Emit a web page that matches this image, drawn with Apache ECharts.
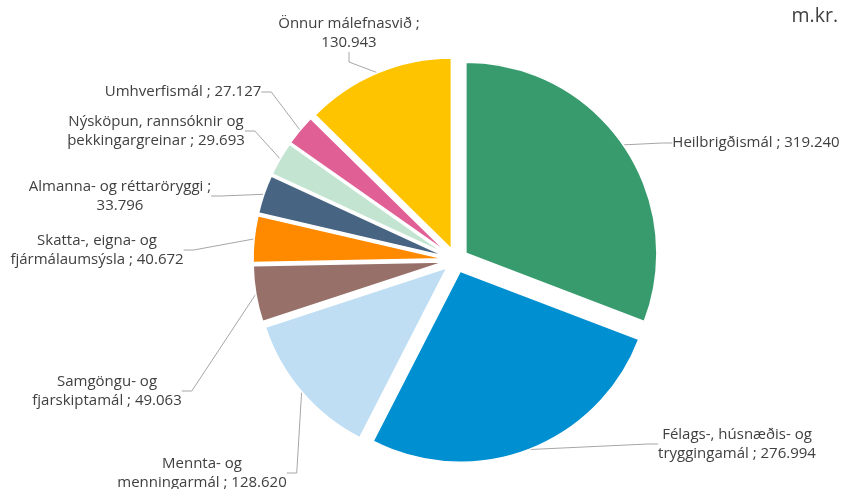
<!DOCTYPE html>
<html><head><meta charset="utf-8">
<script src="https://cdn.jsdelivr.net/npm/echarts@6/dist/echarts.min.js"></script>
<style>html,body{margin:0;padding:0;background:#fff}#c{width:841px;height:489px}</style>
</head><body><div id="c"></div>
<script>
// Categories (clockwise from 12 o'clock), label text with line breaks
const categories = [
  'Heilbrigðismál',
  'Félags-, húsnæðis- og\ntryggingamál',
  'Mennta- og\nmenningarmál',
  'Samgöngu- og\nfjarskiptamál',
  'Skatta-, eigna- og\nfjármálaumsýsla',
  'Almanna- og réttaröryggi',
  'Nýsköpun, rannsóknir og\nþekkingargreinar',
  'Umhverfismál',
  'Önnur málefnasvið'
];
// values in m.kr.
const values = [319240, 276994, 128620, 49063, 40672, 33796, 29693, 27127, 130943];
// separator between name and value in label
const separators = [' ; ', ' ; ', ' ; ', ' ; ', ' ; ', ' ;\n', ' ; ', ' ; ', ' ;\n'];
const colors = ['#379b6d', '#008fd0', '#bfdef4', '#977169', '#ff8a00', '#476482', '#c3e4d1', '#e06096', '#ffc400'];
// label anchor positions (center x, middle y)
const labelPos = [[756,143],[737,444],[202,473],[107,391],[97,250],[120,196],[156,131],[183,92],[349,33]];

function fmt(v){ return String(v).replace(/\B(?=(\d{3})+(?!\d))/g, '.'); }

const CENTER = [456, 260], R = 191, OFF = 12;
const chart = echarts.init(document.getElementById('c'), null, {renderer:'canvas'});
chart.setOption({
  animation: false,
  title: { text: 'm.kr.', right: 3, top: 6, padding: 0, textStyle: { fontFamily: 'Open Sans', fontSize: 19.5, fontWeight: 'normal', color: '#404040' } },
  series: [{
    // exploded slices
    type: 'pie',
    center: CENTER,
    radius: R,
    startAngle: 90,
    clockwise: true,
    selectedMode: 'multiple',
    selectedOffset: OFF,
    silent: true,
    itemStyle: { borderColor: '#fff', borderWidth: 1.5 },
    label: { show: false },
    labelLine: { show: false },
    emphasis: { disabled: true },
    data: categories.map((c, i) => ({ name: c, value: values[i], selected: true, itemStyle: { color: colors[i] } }))
  }, {
    // invisible twin for labels
    type: 'pie',
    center: CENTER,
    radius: R + OFF,
    startAngle: 90,
    clockwise: true,
    silent: true,
    avoidLabelOverlap: false,
    itemStyle: { color: 'rgba(0,0,0,0)', borderWidth: 0 },
    label: {
      show: true,
      fontFamily: 'Open Sans',
      fontSize: 15,
      lineHeight: 19,
      color: '#404040',
      align: 'center',
      formatter: p => categories[p.dataIndex] + separators[p.dataIndex] + fmt(p.value)
    },
    labelLine: { show: true, length: 15, length2: 10, lineStyle: { color: '#a6a6a6', width: 1 } },
    labelLayout: p => ({ x: labelPos[p.dataIndex][0], y: labelPos[p.dataIndex][1], align: 'center', verticalAlign: 'middle' }),
    emphasis: { disabled: true },
    data: categories.map((c, i) => ({ name: c, value: values[i] }))
  }]
});
</script></body></html>
